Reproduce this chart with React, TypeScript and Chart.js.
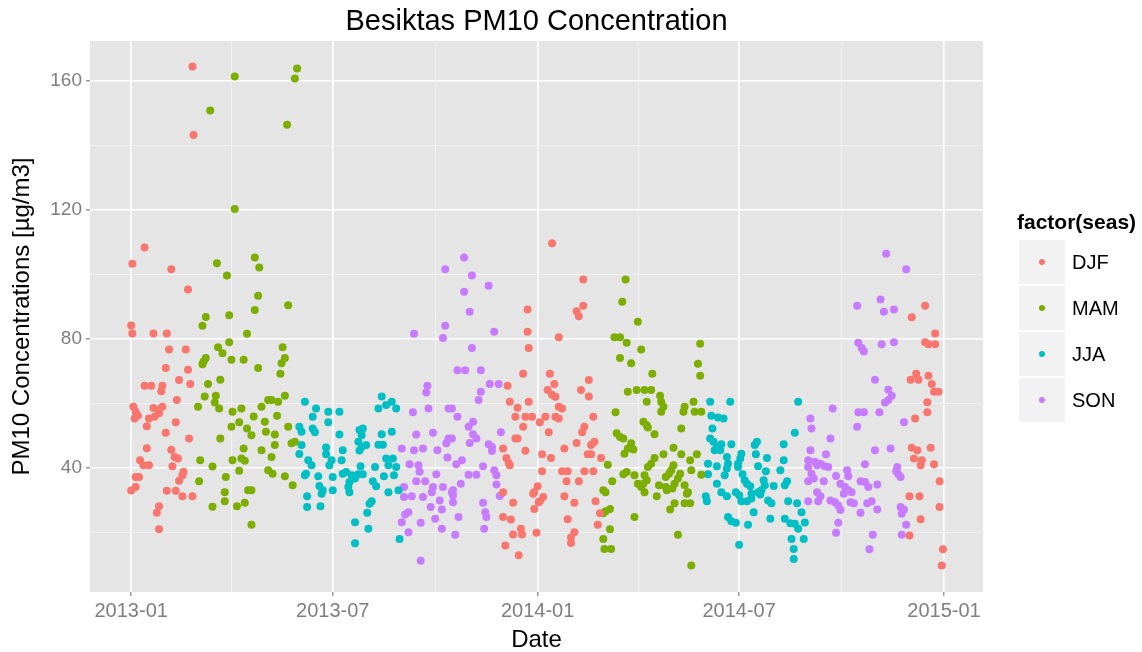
import React, { useEffect, useRef } from 'react';
import { Chart, registerables } from 'chart.js';

Chart.register(...registerables);

const FONT = "'Liberation Sans', Arial, Helvetica, sans-serif";

const chartTitle = 'Besiktas PM10 Concentration';
const xAxisTitle = 'Date';
const yAxisTitle = 'PM10 Concentrations [µg/m3]';
const legendTitle = 'factor(seas)';

const seasonLabels = ['DJF', 'MAM', 'JJA', 'SON'];
const seasonColors = ['#F8766D', '#7CAE00', '#00BFC4', '#C77CFF'];

// [days since 2013-01-01, PM10 daily concentration µg/m3]
const djf: [number, number][] = [
  [0, 84.2], [1, 81.7], [20, 81.7], [32, 81.7], [34, 76.7], [49, 76.7], [31, 71], [51, 70.5], [43, 67.3], [53, 66.1],
  [12, 65.5], [18, 65.5], [28, 65.5], [27, 63.8], [41, 61.1], [2, 59], [4, 57.5], [6, 56.2], [3, 55.4], [20, 58.6],
  [24, 58], [28, 59], [25, 57], [21, 55.9], [16, 55.4], [14, 53], [40, 54.2], [31, 51], [52, 49.2], [14, 46.2],
  [36, 45.7], [8, 42.5], [11, 40.9], [16, 40.9], [7, 37.3], [4, 37.3], [39, 43.5], [42, 43], [37, 40.6], [47, 38.9],
  [46, 37.8], [43, 36.1], [0, 33.1], [4, 34.2], [32, 33], [40, 33], [46, 31.3], [55, 31.3], [25, 28.2], [23, 26.2],
  [25, 21.1], [55, 164.3], [56, 143.1], [12, 108.3], [1, 103.3], [36, 101.6], [51, 95.3],
  [356, 89.1], [378, 109.6], [406, 98.4], [406, 90.3], [400, 88.6], [402, 87], [356, 82.2], [357, 77.2], [384, 80.5], [352, 69.2],
  [376, 69.2], [380, 66.1], [374, 64.2], [378, 62.7], [381, 62.1], [411, 67.3], [404, 64.2], [411, 62.2], [338, 65.5], [340, 60.6],
  [357, 60.6], [347, 58.7], [345, 55.9], [354, 55.9], [360, 55.9], [352, 52.8], [367, 54.2], [384, 59], [387, 58.5], [381, 55.9],
  [372, 55.9], [384, 55.4], [375, 51.1], [415, 55.9], [407, 52.8], [405, 51.1], [345, 49.2], [347, 49.2], [400, 47.8], [416, 48.2],
  [413, 47.2], [334, 46.1], [354, 45.4], [389, 46.1], [410, 44.3], [413, 44.3], [422, 43.2], [337, 43.2], [340, 40.9], [339, 41.6],
  [369, 44.3], [377, 43.2], [369, 39.1], [387, 39.1], [392, 39.1], [407, 39.1], [415, 39.1], [391, 36], [402, 36], [365, 34.4],
  [362, 32.6], [361, 32.1], [370, 31.1], [367, 29.8], [366, 29.5], [334, 32.6], [389, 31.3], [398, 29.3], [417, 29.8], [343, 29.3],
  [362, 27.4], [421, 26.1], [334, 24.9], [341, 24.1], [392, 24.2], [419, 22.5], [350, 21.3], [343, 19.5], [351, 19.5], [364, 20],
  [398, 20.2], [395, 18.6], [395, 16.9], [336, 16.1], [348, 13.1],
  [713, 90.3], [701, 86.7], [722, 81.7], [713, 79], [716, 78.4], [722, 78.4], [705, 69.2], [700, 67.4], [707, 67.4], [716, 68.6],
  [719, 66.1], [721, 63.7], [725, 63.7], [715, 60.4], [715, 57.3], [704, 55.4], [701, 46.3], [706, 45.6], [703, 43], [710, 42.5],
  [709, 40.9], [718, 46.3], [721, 41.2], [726, 36], [699, 31.3], [708, 31.3], [726, 28], [709, 24.2], [699, 19.2], [729, 14.9], [728, 9.9],
];

const mam: [number, number][] = [
  [93, 161.2], [71, 150.7], [93, 120.2], [77, 103.4], [86, 99.6], [111, 105.2], [115, 102.1], [114, 93.4], [111, 89], [67, 86.8],
  [88, 87.3], [64, 84.1], [104, 81.6], [88, 79], [78, 77.4], [82, 75.6], [67, 74.1], [65, 73], [64, 72.2], [90, 73.6],
  [101, 73.6], [114, 71], [80, 67.4], [69, 66.1], [66, 62.2], [60, 59], [76, 62.4], [75, 60.3], [79, 58.5], [91, 57.5],
  [99, 58.5], [110, 56], [117, 59], [123, 61.1], [97, 54.2], [90, 52.8], [104, 52.3], [108, 50.2], [120, 54.4], [121, 51.3],
  [80, 49.2], [101, 46.1], [117, 45.6], [91, 42.5], [99, 43], [102, 42.3], [62, 42.5], [73, 40.5], [97, 39.2], [85, 37.3],
  [61, 36], [123, 39.4], [84, 32.6], [84, 29.8], [108, 33.2], [105, 33.2], [73, 28.1], [95, 28.2], [102, 29.3], [108, 22.5],
  [149, 163.7], [147, 160.6], [140, 146.3], [141, 90.4], [136, 77.4], [138, 74.1], [135, 72.5], [134, 69.2], [138, 62.4], [132, 60.6],
  [126, 61.1], [131, 56.2], [141, 52.8], [129, 50.4], [129, 47.2], [144, 47.7], [147, 48.2], [126, 43.5], [127, 38.3], [138, 37.5],
  [145, 34.7],
  [444, 98.4], [441, 91.5], [434, 80.5], [439, 80.5], [445, 78.8], [439, 74.1], [449, 72.5], [446, 63.7], [435, 57.3], [436, 50.8],
  [439, 49.7], [442, 49.2], [449, 47.7], [446, 46.1], [443, 44.5], [428, 41.1], [445, 38.8], [442, 38.1], [432, 36], [424, 33.2],
  [426, 32.6], [430, 27.4], [426, 26.7], [424, 26.1], [430, 21.1], [424, 18.1], [425, 15], [431, 15],
  [455, 85.3], [458, 76.7], [468, 69.2], [511, 78.5], [509, 72.3], [511, 68.6], [454, 64.2], [461, 64.2], [467, 64.2], [463, 60.6],
  [475, 62.4], [476, 60.6], [478, 59], [476, 57.5], [505, 60.6], [497, 59], [496, 57.5], [506, 57.5], [512, 57.5], [460, 54.4],
  [463, 53.3], [464, 52.6], [494, 52.3], [470, 50.5], [451, 45.8], [487, 46.3], [478, 44.3], [494, 44.3], [508, 44.3], [470, 43.2],
  [467, 41.4], [464, 40.4], [502, 42.5], [503, 39.4], [452, 37.8], [487, 40.9], [485, 39.4], [483, 38.3], [480, 37.3], [493, 38.3],
  [491, 36.8], [488, 35.2], [486, 33.7], [481, 33.2], [480, 34.2], [461, 37.8], [463, 36.3], [460, 35.2], [455, 35.2], [458, 34.2],
  [461, 32.6], [474, 34.7], [472, 31.3], [497, 34.7], [500, 32.6], [499, 32.1], [512, 38], [488, 29.2], [497, 29.2], [502, 29.2],
  [484, 27.2], [452, 24.9], [491, 19.4], [503, 9.9],
];

const jja: [number, number][] = [
  [156, 60.6], [166, 58.5], [163, 55.9], [177, 57.5], [187, 57.5], [177, 54.2], [151, 52.8], [153, 51.3], [163, 52.3], [165, 51.1],
  [187, 50.4], [153, 47.2], [151, 44.4], [175, 46.4], [175, 44.3], [190, 45.6], [159, 42.5], [162, 40.9], [157, 38.3], [156, 37.8],
  [180, 42.5], [178, 40.9], [189, 42.5], [168, 37.5], [181, 37.3], [169, 34.5], [172, 33.2], [171, 32.1], [181, 33.2], [158, 31.3],
  [158, 28], [170, 28.2], [190, 38.3], [193, 38.8], [198, 37.8], [201, 36.8], [196, 35.7], [196, 32.6], [195, 34.2], [205, 51.8],
  [208, 52.3], [207, 50.2], [204, 48.2], [207, 46.6], [211, 47.2], [205, 45.5], [206, 40.6], [208, 38.1], [204, 38.1], [201, 23.3],
  [201, 16.8], [219, 40.4], [217, 36], [220, 34.4], [216, 29.8], [214, 29], [212, 26.2], [213, 21.3], [225, 62.2], [222, 58.5],
  [229, 59.6], [234, 60.6], [238, 58.5], [225, 50.5], [222, 47.3], [226, 47.3], [234, 51.3], [229, 43], [235, 43], [231, 40.9],
  [238, 40.4], [227, 37.5], [236, 37.8], [231, 32.6], [240, 33.2], [241, 18.1],
  [520, 60.6], [538, 60.6], [599, 60.6], [521, 56.2], [527, 55.7], [532, 55.4], [522, 52.3], [596, 51], [520, 49.2], [523, 48.2],
  [526, 46.6], [529, 45.6], [530, 47.4], [524, 45.6], [539, 47.4], [562, 48.2], [560, 47.2], [586, 47.4], [548, 44.5], [547, 43],
  [545, 41.4], [545, 40.4], [535, 43.5], [536, 41.4], [535, 39.9], [533, 37.8], [561, 44.3], [571, 43.2], [586, 42.5], [583, 39.4],
  [518, 41.4], [526, 40.6], [518, 38.1], [563, 40.6], [570, 39.1], [549, 38.1], [551, 36.3], [553, 35.2], [556, 34.4], [526, 35.2],
  [530, 32.6], [535, 31.3], [516, 31.3], [517, 29.8], [543, 32.6], [546, 31.6], [548, 29.8], [553, 29.8], [557, 30.6], [557, 32.1],
  [568, 36.3], [569, 34.7], [566, 33.2], [565, 31.9], [563, 32.6], [577, 34.5], [572, 30], [575, 29.2], [589, 36], [587, 34.7],
  [590, 29.8], [598, 29.2], [559, 26.4], [536, 24.9], [539, 23.6], [543, 23.1], [554, 22.5], [574, 24.4], [587, 24.4], [592, 23],
  [596, 22.8], [599, 21.3], [602, 26.4], [605, 23.2], [593, 18.1], [604, 18.1], [595, 15], [595, 11.9], [546, 16.3],
];

const son: [number, number][] = [
  [282, 101.6], [299, 105.2], [306, 99.6], [321, 96.5], [299, 94.6], [304, 88.4], [254, 81.6], [282, 84.1], [280, 80.3], [266, 65.5],
  [265, 63.4], [267, 58.5], [285, 58.5], [253, 57.3], [256, 50.4], [271, 51], [285, 49.2], [283, 47.7], [243, 46.1], [254, 45.6],
  [262, 46.1], [275, 45.6], [284, 43.3], [250, 41.2], [258, 40.9], [259, 38.9], [274, 38.1], [256, 36], [264, 36], [271, 34.2],
  [280, 34.2], [288, 32.6], [245, 34.2], [245, 31.1], [252, 31.3], [262, 31.1], [270, 32.6], [277, 30], [269, 28], [279, 27.2],
  [246, 25.7], [249, 26.4], [243, 23.3], [260, 23.1], [273, 24.4], [279, 21.3], [249, 20.2], [260, 11.4],
  [326, 82.2], [306, 77.2], [293, 70.3], [300, 70.3], [314, 70.3], [322, 66.1], [330, 66.1], [314, 63.7], [312, 61.1], [288, 58.5],
  [293, 55.9], [307, 54.4], [303, 52.8], [307, 50.5], [310, 49.2], [304, 47.8], [288, 49.2], [332, 51.1], [321, 47.4], [324, 46.6],
  [324, 45.3], [297, 42.5], [292, 41.2], [316, 40.6], [303, 38], [310, 38], [326, 39.4], [328, 37.8], [296, 35.2], [328, 35],
  [289, 33.2], [289, 31.6], [289, 29.5], [331, 31.4], [316, 29.3], [294, 24.9], [318, 26.4], [319, 24.9], [317, 21.3], [291, 19.4],
  [610, 55.4], [611, 52.3], [610, 45.6], [608, 42.5], [608, 40.4], [608, 36], [608, 29.8],
  [678, 106.4], [696, 101.6], [673, 92.2], [652, 90.3], [676, 88.4], [685, 89.1], [653, 78.8], [656, 77.2], [658, 76.1], [674, 78.4],
  [685, 79], [668, 67.4], [680, 64.3], [683, 62.4], [680, 61.1], [677, 60.3], [630, 58.5], [653, 57.3], [658, 57.3], [672, 57.3],
  [652, 52.8], [694, 54.2], [628, 49.2], [624, 44.3], [668, 45.6], [682, 46.1], [614, 42], [619, 41.4], [623, 40.6], [626, 40.4],
  [616, 40.9], [659, 41.2], [688, 40.4], [687, 39.1], [689, 38.1], [691, 37.3], [611, 38.3], [613, 36.8], [622, 36], [633, 37.6],
  [643, 39.4], [644, 37.5], [637, 35.2], [641, 34.2], [644, 33.2], [647, 32.6], [640, 32.1], [655, 36], [659, 35.7], [662, 34.2],
  [670, 35], [616, 32.6], [619, 31.3], [617, 29.8], [628, 30], [632, 29.5], [635, 28.5], [637, 27.1], [646, 29.5], [649, 29.2],
  [661, 29.2], [665, 29.8], [655, 26.2], [670, 27.2], [691, 28], [694, 27.2], [692, 25.9], [635, 23.1], [633, 20], [666, 19.4],
  [663, 14.9], [696, 22.5], [692, 19.4],
];

const seasonData = [djf, mam, jja, son];

const xMajorDates = ['2013-01-01', '2013-07-01', '2014-01-01', '2014-07-01', '2015-01-01'];
const yMajorTicks = [40, 80, 120, 160];
const yMinorTicks = [20, 60, 100, 140];
const xRangeDays = [-37, 765];
const yRange = [1.7, 172.2];

const DAY_MS = 86400000;
const START_MS = Date.UTC(2013, 0, 1);
const dayToMs = (d: number) => START_MS + d * DAY_MS;
const dateToMs = (s: string) => {
  const [y, m, d] = s.split('-').map(Number);
  return Date.UTC(y, m - 1, d);
};
const xMajor = xMajorDates.map(dateToMs);
const xMinor = xMajor.slice(1).map((v, i) => (v + xMajor[i]) / 2);
const xAllTicks = [...xMajor, ...xMinor].sort((a, b) => a - b);
const yAllTicks = [...yMajorTicks, ...yMinorTicks].sort((a, b) => a - b);
const fmtMonth = (ms: number) => {
  const d = new Date(ms);
  return `${d.getUTCFullYear()}-${String(d.getUTCMonth() + 1).padStart(2, '0')}`;
};

const overlayPlugin = {
  id: 'ggOverlay',
  beforeDraw(chart: any) {
    const { ctx, chartArea: a, width, height } = chart;
    ctx.save();
    ctx.fillStyle = '#FFFFFF';
    ctx.fillRect(0, 0, width, height);
    ctx.fillStyle = '#E5E5E5';
    ctx.fillRect(a.left, a.top, a.right - a.left, a.bottom - a.top);
    ctx.restore();
  },
  afterDraw(chart: any) {
    const { ctx, chartArea: a } = chart;
    ctx.save();
    // title
    ctx.fillStyle = '#000000';
    ctx.font = `29px ${FONT}`;
    ctx.textAlign = 'center';
    ctx.textBaseline = 'middle';
    ctx.fillText(chartTitle, (a.left + a.right) / 2, 22);
    // legend
    const lx = 1019;
    ctx.textAlign = 'left';
    ctx.font = `bold 21px ${FONT}`;
    ctx.fillText(legendTitle, lx - 2, 223);
    const keyW = 46;
    const keyH = 44;
    const keyTop = 240;
    chart.data.datasets.forEach((ds: any, i: number) => {
      const y = keyTop + i * (keyH + 2);
      ctx.fillStyle = '#F2F2F2';
      ctx.fillRect(lx, y, keyW, keyH);
      ctx.fillStyle = ds.backgroundColor;
      ctx.beginPath();
      ctx.arc(lx + keyW / 2, y + keyH / 2, 3, 0, Math.PI * 2);
      ctx.fill();
      ctx.fillStyle = '#000000';
      ctx.font = `20px ${FONT}`;
      ctx.fillText(ds.label, lx + keyW + 7, y + keyH / 2 + 1);
    });
    ctx.restore();
  },
};

export default function App() {
  const ref = useRef<HTMLCanvasElement>(null);

  useEffect(() => {
    const canvas = ref.current;
    if (!canvas) return;
    const datasets = seasonData.map((pts, i) => ({
      label: seasonLabels[i],
      data: pts.map(([d, v]) => ({ x: dayToMs(d), y: v })),
      backgroundColor: seasonColors[i],
      borderWidth: 0,
      pointRadius: 4,
      pointHoverRadius: 4,
    }));
    const chart = new Chart(canvas, {
      type: 'scatter',
      data: { datasets },
      plugins: [overlayPlugin],
      options: {
        animation: false,
        responsive: false,
        devicePixelRatio: 1,
        events: [],
        layout: { padding: { left: 0, right: 159, top: 41, bottom: 0 } },
        plugins: {
          legend: { display: false },
          tooltip: { enabled: false },
          title: { display: false },
        },
        scales: {
          x: {
            type: 'linear',
            min: dayToMs(xRangeDays[0]),
            max: dayToMs(xRangeDays[1]),
            afterBuildTicks: (s: any) => {
              s.ticks = xAllTicks.map((v) => ({ value: v }));
            },
            afterFit: (s: any) => {
              s.height = 60;
            },
            border: { display: false },
            grid: {
              color: (c: any) => (xMajor.includes(c.tick?.value) ? '#FFFFFF' : '#F2F2F2'),
              lineWidth: (c: any) => (xMajor.includes(c.tick?.value) ? 1.6 : 0.9),
              tickColor: (c: any) => (xMajor.includes(c.tick?.value) ? '#7F7F7F' : 'rgba(0,0,0,0)'),
              tickLength: 4,
              tickWidth: 1.2,
            },
            ticks: {
              autoSkip: false,
              maxRotation: 0,
              padding: 3,
              color: '#7F7F7F',
              font: { family: FONT, size: 20 },
              callback: (v: any) => (xMajor.includes(Number(v)) ? fmtMonth(Number(v)) : ''),
            },
            title: {
              display: true,
              text: xAxisTitle,
              color: '#000000',
              font: { family: FONT, size: 24, lineHeight: 1 },
              padding: { top: 0, bottom: 0 },
            },
          },
          y: {
            type: 'linear',
            min: yRange[0],
            max: yRange[1],
            afterBuildTicks: (s: any) => {
              s.ticks = yAllTicks.map((v) => ({ value: v }));
            },
            afterFit: (s: any) => {
              s.width = 90;
            },
            border: { display: false },
            grid: {
              color: (c: any) => (yMajorTicks.includes(c.tick?.value) ? '#FFFFFF' : '#F2F2F2'),
              lineWidth: (c: any) => (yMajorTicks.includes(c.tick?.value) ? 1.6 : 0.9),
              tickColor: (c: any) => (yMajorTicks.includes(c.tick?.value) ? '#7F7F7F' : 'rgba(0,0,0,0)'),
              tickLength: 4,
              tickWidth: 1.2,
            },
            ticks: {
              autoSkip: false,
              padding: 4,
              color: '#7F7F7F',
              font: { family: FONT, size: 19 },
              callback: (v: any) => (yMajorTicks.includes(Number(v)) ? String(v) : ''),
            },
            title: {
              display: true,
              text: yAxisTitle,
              color: '#000000',
              font: { family: FONT, size: 24, lineHeight: 1.2 },
              padding: { top: 8, bottom: 0 },
            },
          },
        },
      } as any,
    });
    return () => chart.destroy();
  }, []);

  return (
    <div style={{ position: 'absolute', left: 0, top: 0, width: 1142, height: 652 }}>
      <canvas ref={ref} width={1142} height={652} style={{ display: 'block', width: 1142, height: 652 }} />
    </div>
  );
}
